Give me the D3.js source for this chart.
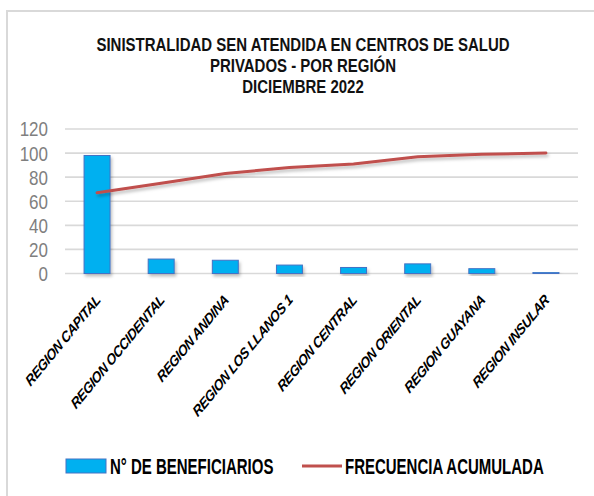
<!DOCTYPE html>
<html>
<head>
<meta charset="utf-8">
<script src="https://cdn.jsdelivr.net/npm/d3@7"></script>
<style>
  html, body { margin: 0; padding: 0; background: #fff; }
  svg { display: block; }
</style>
</head>
<body>
<svg id="chart" width="594" height="496"></svg>
<script>
const categories = ["REGION CAPITAL", "REGION OCCIDENTAL", "REGION ANDINA", "REGION LOS LLANOS 1",
                    "REGION CENTRAL", "REGION ORIENTAL", "REGION GUAYANA", "REGION INSULAR"];
const beneficiarios = [98, 12, 11, 7, 5, 8, 4, 1];
const frecuenciaAcumulada = [67, 75, 83, 88, 91, 97, 99, 100];
const yTicks = [0, 20, 40, 60, 80, 100, 120];
const titleLines = ["SINISTRALIDAD SEN ATENDIDA EN CENTROS DE SALUD", "PRIVADOS - POR REGIÓN", "DICIEMBRE 2022"];
const legendLabels = ["N° DE BENEFICIARIOS", "FRECUENCIA ACUMULADA"];

const svg = d3.select("#chart");
const BAR = "#00B0F0", BAR_STROKE = "#4472C4", LINE = "#C0504D", GRID = "#d9d9d9";

// filters
const defs = svg.append("defs");
const f = defs.append("filter").attr("id", "shadow").attr("x", "-20%").attr("y", "-20%").attr("width", "140%").attr("height", "160%");
f.append("feDropShadow").attr("dx", 1.5).attr("dy", 2.5).attr("stdDeviation", 1.6)
  .attr("flood-color", "#000").attr("flood-opacity", 0.25);

// outer border (top + left)
svg.append("rect").attr("x", 0).attr("y", 0).attr("width", 594).attr("height", 496).attr("fill", "#fff");
svg.append("path").attr("d", "M7,496 V11 H594").attr("fill", "none").attr("stroke", GRID).attr("stroke-width", 2);

// title
const title = svg.append("g").attr("font-family", "'Liberation Sans', Arial, sans-serif")
  .attr("font-weight", "bold").attr("font-size", 15).attr("fill", "#111");
const titleBase = [50.7, 72.2, 93.4];
titleLines.forEach((t, i) => {
  title.append("text").attr("text-anchor", "middle")
    .attr("transform", `translate(303,${titleBase[i]}) scale(1,1.24)`).text(t);
});

// scales
const x = d3.scaleBand().domain(categories).range([65, 578]).padding(0);
const y = d3.scaleLinear().domain([0, 120]).range([273.5, 129]);
const cx = d => x(d) + x.bandwidth() / 2;
const barW = x.bandwidth() * 0.405;

// gridlines
svg.append("g").selectAll("line").data(yTicks).join("line")
  .attr("x1", 65).attr("x2", 578)
  .attr("y1", d => y(d)).attr("y2", d => y(d))
  .attr("stroke", GRID).attr("stroke-width", 1.6);

// y tick labels
svg.append("g").attr("font-family", "'Liberation Sans', Arial, sans-serif").attr("font-size", 17).attr("fill", "#7f7f7f")
  .selectAll("text").data(yTicks).join("text")
  .attr("text-anchor", "end")
  .attr("transform", d => `translate(48,${y(d)}) scale(1,1.22)`)
  .attr("dy", "0.36em").text(d => d);

// bars
svg.append("g").selectAll("rect").data(categories).join("rect")
  .attr("x", d => cx(d) - barW / 2)
  .attr("y", (d, i) => y(beneficiarios[i]))
  .attr("width", barW)
  .attr("height", (d, i) => y(0) - y(beneficiarios[i]))
  .attr("fill", BAR).attr("stroke", BAR_STROKE).attr("stroke-width", 1)
  .attr("filter", "url(#shadow)");

// line
const lineGen = d3.line().x((d, i) => cx(categories[i])).y(d => y(d));
svg.append("path").datum(frecuenciaAcumulada)
  .attr("d", lineGen).attr("fill", "none").attr("stroke", LINE).attr("stroke-width", 3)
  .attr("stroke-linecap", "round").attr("filter", "url(#shadow)");

// x labels
svg.append("g").attr("font-family", "'Liberation Sans', Arial, sans-serif").attr("font-size", 12.5)
  .attr("font-weight", "bold").attr("font-style", "italic").attr("fill", "#000")
  .attr("letter-spacing", -0.45)
  .selectAll("text").data(categories).join("text")
  .attr("text-anchor", "end")
  .attr("transform", d => `translate(${cx(d) + 4},301) scale(1,1.22) rotate(-45)`)
  .text(d => d);

// legend
const lg = svg.append("g").attr("font-family", "'Liberation Sans', Arial, sans-serif")
  .attr("font-weight", "bold").attr("font-size", 15).attr("fill", "#000");
lg.append("rect").attr("x", 66).attr("y", 459).attr("width", 40).attr("height", 14)
  .attr("fill", BAR).attr("stroke", BAR_STROKE).attr("stroke-width", 1);
lg.append("text").attr("transform", "translate(110,474) scale(1,1.42)").text(legendLabels[0]);
lg.append("line").attr("x1", 302).attr("x2", 342).attr("y1", 466).attr("y2", 466)
  .attr("stroke", LINE).attr("stroke-width", 3);
lg.append("text").attr("transform", "translate(345,474) scale(1,1.42)").text(legendLabels[1]);
</script>
</body>
</html>
